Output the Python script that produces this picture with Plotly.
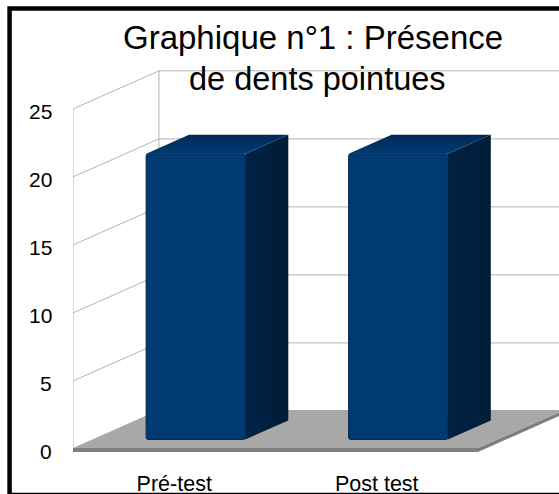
import plotly.graph_objects as go

# données
categories = ["Pré-test", "Post test"]
values = [21, 21]
y_ticks = [0, 5, 10, 15, 20, 25]
title_lines = ["Graphique n°1 : Présence", "de dents pointues"]

W, H = 559, 494
M_L, M_R, M_T, M_B = 72.5, 0, 40, 34
FONT = "Liberation Sans, Arial, sans-serif"

COLORS = {
    "grid": "#b3b3b3",
    "floor": "#a8a8a8",
    "floor_edge": "#7f7f7f",
    "front": "#003a70",
    "edge": "#002a54",
    "side_l": "#002244",
    "side_r": "#001c38",
    "top_back": "#002a58",
    "top_front": "#003a72",
}

# profondeur de la perspective, en unites d'axes
X_MAX = 2.4
DEPTH_X = 0.4243
DEPTH_Y = 2.8
BAR_W = 0.49
D0, D1 = 0.25, 0.75  # position de la barre dans la profondeur
Y_MIN, Y_MAX = -0.81, 30.07
FLOOR_TOP, FLOOR_BOTTOM = 0.07, -0.22


def path(points):
    return "M " + " L ".join(f"{x:.4f},{y:.4f}" for x, y in points) + " Z"


def paper_x(px):
    return (px - M_L) / (W - M_L - M_R)


def paper_y(px):
    return 1 - (px - M_T) / (H - M_T - M_B)


shapes = []

# murs : lignes de grille et aretes
top = y_ticks[-1]
wall_lines = [[(0, 0), (0, top)], [(DEPTH_X, DEPTH_Y), (DEPTH_X, top + DEPTH_Y)]]
for t in y_ticks[1:]:
    wall_lines.append([(0, t), (DEPTH_X, t + DEPTH_Y), (2 + DEPTH_X, t + DEPTH_Y)])
for line in wall_lines:
    shapes.append(dict(type="path", layer="below", xref="x", yref="y",
                       path=path(line).replace(" Z", ""),
                       line=dict(color=COLORS["grid"], width=1)))

# sol
shapes.append(dict(type="path", layer="below", xref="x", yref="y",
                   path=path([(2, FLOOR_BOTTOM), (2 + DEPTH_X, FLOOR_BOTTOM + DEPTH_Y),
                              (2 + DEPTH_X, FLOOR_TOP + DEPTH_Y), (2, FLOOR_TOP)]),
                   fillcolor=COLORS["floor_edge"], line_width=0))
shapes.append(dict(type="path", layer="below", xref="x", yref="y",
                   path=path([(0, FLOOR_TOP), (2, FLOOR_TOP), (2, FLOOR_BOTTOM), (0, FLOOR_BOTTOM)]),
                   fillcolor=COLORS["floor_edge"], line_width=0))
shapes.append(dict(type="path", layer="below", xref="x", yref="y",
                   path=path([(0, FLOOR_TOP), (2, FLOOR_TOP), (2 + DEPTH_X, FLOOR_TOP + DEPTH_Y),
                              (DEPTH_X, FLOOR_TOP + DEPTH_Y)]),
                   fillcolor=COLORS["floor"], line_width=0))

# cadre noir
shapes.append(dict(type="rect", xref="paper", yref="paper",
                   x0=paper_x(9), x1=paper_x(650), y0=paper_y(8.5), y1=paper_y(495),
                   line=dict(color="#000000", width=4.5)))

fig = go.Figure()

centers = [i + 0.5 for i in range(len(categories))]
base = D0 * DEPTH_Y
offset = D0 * DEPTH_X
dx = (D1 - D0) * DEPTH_X
dy = (D1 - D0) * DEPTH_Y

fig.add_trace(go.Bar(
    x=[c + offset for c in centers], y=values, base=base, width=BAR_W,
    marker=dict(color=COLORS["front"], line=dict(color=COLORS["edge"], width=1), cornerradius=2),
    showlegend=False, hoverinfo="skip",
))

for c, v in zip(centers, values):
    left = c + offset - BAR_W / 2
    right = c + offset + BAR_W / 2
    fig.add_trace(go.Scatter(
        x=[right, right + dx, right + dx, right, right],
        y=[base, base + dy, base + v + dy, base + v, base],
        mode="lines", line=dict(width=0), fill="toself",
        fillgradient=dict(type="horizontal", colorscale=[[0, COLORS["side_l"]], [1, COLORS["side_r"]]]),
        showlegend=False, hoverinfo="skip",
    ))
    fig.add_trace(go.Scatter(
        x=[left, right, right + dx, left + dx, left],
        y=[base + v, base + v, base + v + dy, base + v + dy, base + v],
        mode="lines", line=dict(width=0), fill="toself",
        fillgradient=dict(type="vertical", colorscale=[[0, COLORS["top_front"]], [1, COLORS["top_back"]]]),
        showlegend=False, hoverinfo="skip",
    ))

# titre : la seconde ligne est decalee vers la droite dans l'original
fig.add_annotation(
    text=title_lines[0], xref="paper", yref="paper",
    x=paper_x(313), y=paper_y(17), xanchor="center", yanchor="top", showarrow=False,
    font=dict(family=FONT, size=33, color="#000000"),
)
fig.add_annotation(
    text=title_lines[1], xref="paper", yref="paper",
    x=paper_x(317), y=paper_y(59), xanchor="center", yanchor="top", showarrow=False,
    font=dict(family=FONT, size=32.5, color="#000000"),
)

# etiquettes de l'axe y, un peu plus bas que les graduations
for t in y_ticks:
    fig.add_annotation(
        text=str(t), xref="paper", yref="y", x=paper_x(53), y=t, yshift=-2.5,
        xanchor="right", yanchor="middle", showarrow=False,
        font=dict(family=FONT, size=21, color="#000000"),
    )

fig.update_layout(
    width=W, height=H,
    margin=dict(l=M_L, r=M_R, t=M_T, b=M_B, pad=0, autoexpand=False),
    paper_bgcolor="#ffffff", plot_bgcolor="#ffffff",
    font=dict(family=FONT, size=21, color="#000000"),
    shapes=shapes,
    showlegend=False,
    xaxis=dict(range=[0, X_MAX], tickvals=centers, ticktext=categories, showgrid=False,
               zeroline=False, showline=False, ticks="", ticklabelstandoff=8,
               tickfont=dict(size=21.5)),
    yaxis=dict(range=[Y_MIN, Y_MAX], tickvals=y_ticks, showgrid=False, showticklabels=False,
               zeroline=False, showline=False, ticks=""),
)

fig.write_html("out.html", config=dict(displayModeBar=False), post_script="document.body.style.margin='0';document.documentElement.style.overflow='hidden';")
